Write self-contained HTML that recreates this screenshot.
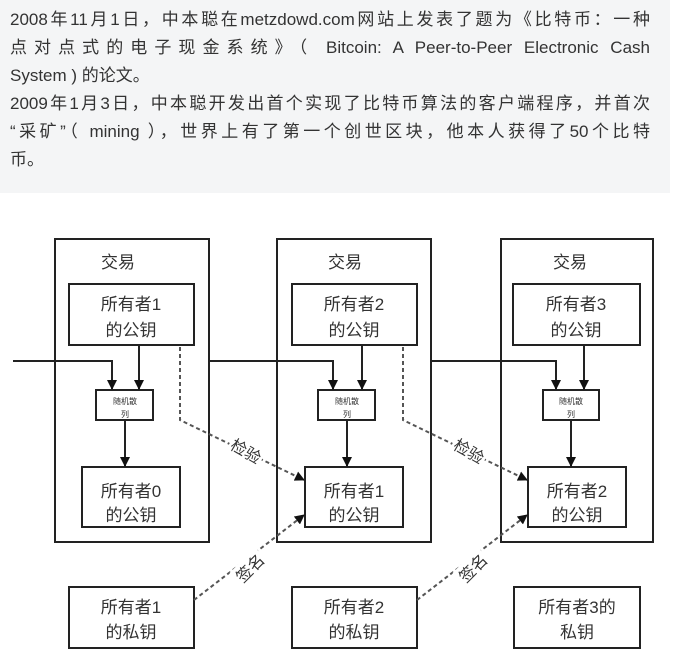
<!DOCTYPE html>
<html><head><meta charset="utf-8"><style>
body{margin:0;width:696px;height:672px;background:#fff;overflow:hidden;font-family:"Liberation Sans","Noto Sans CJK SC",sans-serif}
.txt{position:absolute;left:0;top:0;width:670px;height:193px;background:#f4f5f6}
.l{position:absolute;left:10px;width:640px;font-size:17px;line-height:28px;color:#333;white-space:nowrap;text-align:justify;text-align-last:justify}
.n{text-align-last:left}
</style></head><body>
<div class="txt">
<div class="l" style="top:6px">2008年11月1日，中本聪在metzdowd.com网站上发表了题为《比特币：一种</div>
<div class="l" style="top:34px">点对点式的电子现金系统》（ Bitcoin: A Peer-to-Peer Electronic Cash</div>
<div class="l n" style="top:62px">System ) 的论文。</div>
<div class="l" style="top:90px">2009年1月3日，中本聪开发出首个实现了比特币算法的客户端程序，并首次</div>
<div class="l" style="top:118px">“采矿”（ mining ），世界上有了第一个创世区块，他本人获得了50个比特</div>
<div class="l n" style="top:146px">币。</div>
</div>
<svg style="position:absolute;left:0;top:0" width="696" height="672" font-family="Liberation Sans,Noto Sans CJK SC,sans-serif">
<defs><marker id="a" markerWidth="10" markerHeight="10" refX="9" refY="5" orient="auto" markerUnits="userSpaceOnUse"><path d="M0,0L10,5L0,10z" fill="#111"/></marker></defs>
<g fill="none" stroke="#222" stroke-width="2">
<rect x="55" y="239" width="154" height="303"/>
<rect x="277" y="239" width="154" height="303"/>
<rect x="501" y="239" width="152" height="303"/>
<rect x="69" y="284" width="125" height="61"/>
<rect x="292" y="284" width="125" height="61"/>
<rect x="513" y="284" width="127" height="61"/>
<rect x="96" y="390" width="57" height="30"/>
<rect x="318" y="390" width="57" height="30"/>
<rect x="543" y="390" width="56" height="30"/>
<rect x="82" y="467" width="98" height="60"/>
<rect x="305" y="467" width="98" height="60"/>
<rect x="528" y="467" width="98" height="60"/>
<rect x="69" y="587" width="125" height="61"/>
<rect x="292" y="587" width="125" height="61"/>
<rect x="514" y="587" width="126" height="61"/>
<path d="M13,361H112V389" marker-end="url(#a)"/>
<path d="M209,361H333V389" marker-end="url(#a)"/>
<path d="M431,361H556V389" marker-end="url(#a)"/>
<path d="M139,345V389" marker-end="url(#a)"/>
<path d="M362,345V389" marker-end="url(#a)"/>
<path d="M584,345V389" marker-end="url(#a)"/>
<path d="M125,420V466" marker-end="url(#a)"/>
<path d="M347,420V466" marker-end="url(#a)"/>
<path d="M571,420V466" marker-end="url(#a)"/>
</g>
<g fill="none" stroke="#555" stroke-width="2" stroke-dasharray="4,3">
<path d="M180,347V420L304,480" marker-end="url(#a)"/>
<path d="M403,347V420L527,480" marker-end="url(#a)"/>
<path d="M194,600L304,515" marker-end="url(#a)"/>
<path d="M417,600L527,515" marker-end="url(#a)"/>
</g>
<g font-size="17" fill="#333" text-anchor="middle">
<text x="118" y="268">交易</text><text x="345" y="268">交易</text><text x="570" y="268">交易</text>
<text x="131" y="310">所有者1</text><text x="131" y="336">的公钥</text>
<text x="354" y="310">所有者2</text><text x="354" y="336">的公钥</text>
<text x="576" y="310">所有者3</text><text x="576" y="336">的公钥</text>
<text x="131" y="497">所有者0</text><text x="131" y="521">的公钥</text>
<text x="354" y="497">所有者1</text><text x="354" y="521">的公钥</text>
<text x="577" y="497">所有者2</text><text x="577" y="521">的公钥</text>
<text x="131" y="613">所有者1</text><text x="131" y="638">的私钥</text>
<text x="354" y="613">所有者2</text><text x="354" y="638">的私钥</text>
<text x="577" y="613">所有者3的</text><text x="577" y="638">私钥</text>
</g>
<g font-size="16" fill="#333" text-anchor="middle">
<rect x="228" y="440" width="36" height="22" fill="#fff" transform="rotate(30 246 451)"/>
<text x="246" y="457" transform="rotate(30 246 451)">检验</text>
<rect x="451" y="440" width="36" height="22" fill="#fff" transform="rotate(30 469 451)"/>
<text x="469" y="457" transform="rotate(30 469 451)">检验</text>
<rect x="232" y="557" width="36" height="22" fill="#fff" transform="rotate(-45 250 568)"/>
<text x="250" y="574" transform="rotate(-45 250 568)">签名</text>
<rect x="455" y="557" width="36" height="22" fill="#fff" transform="rotate(-45 473 568)"/>
<text x="473" y="574" transform="rotate(-45 473 568)">签名</text>
</g>
<g font-size="8" fill="#333" text-anchor="middle">
<text x="125" y="404">随机散</text><text x="125" y="417">列</text>
<text x="347" y="404">随机散</text><text x="347" y="417">列</text>
<text x="571" y="404">随机散</text><text x="571" y="417">列</text>
</g>
</svg>
</body></html>
